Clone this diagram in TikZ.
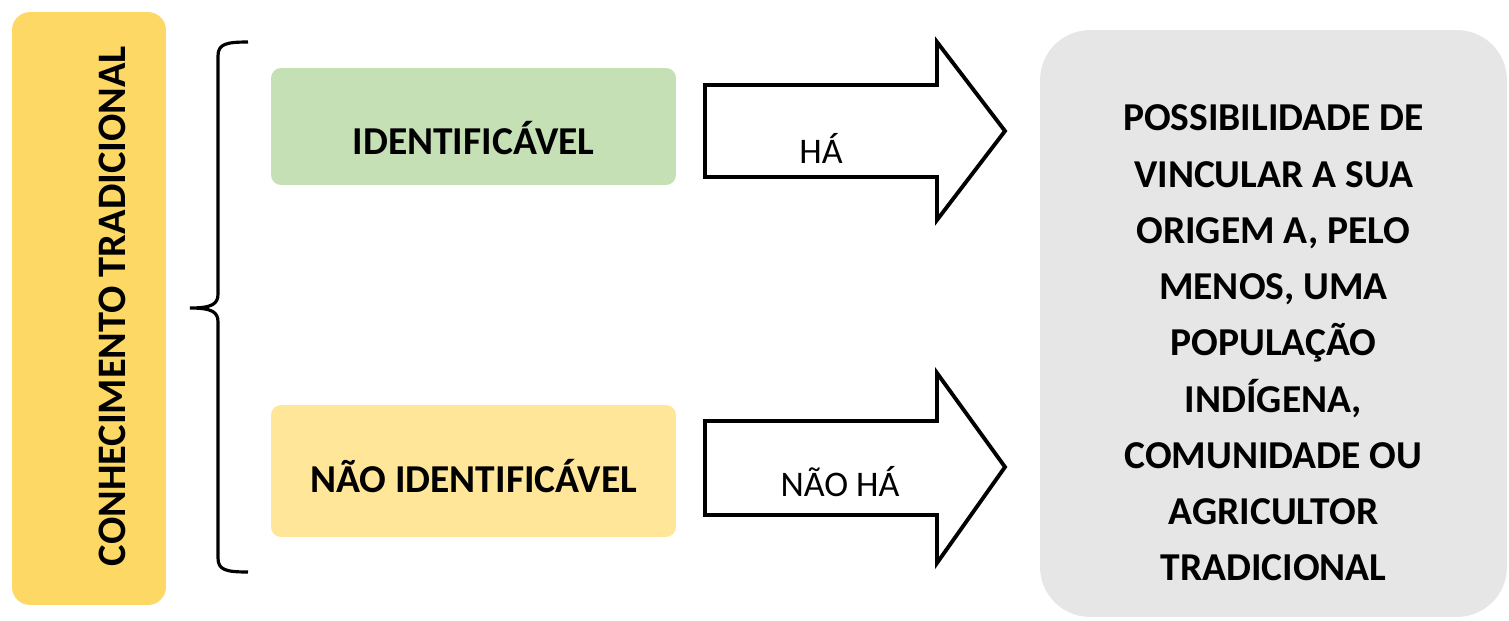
\documentclass[tikz,border=0pt]{standalone}
\usepackage{fontspec}
\setmainfont{Carlito}
\usepackage{tikz}
\usetikzlibrary{arrows.meta}
\definecolor{ouro}{RGB}{253,216,100}
\definecolor{verdeclaro}{RGB}{197,224,180}
\definecolor{amareloclaro}{RGB}{255,230,153}
\definecolor{cinzaclaro}{RGB}{231,230,230}

\begin{document}
\begin{tikzpicture}[x=0.02cm,y=-0.02cm,
  caixa/.style={rounded corners=0.2cm,inner sep=0pt},
  texto/.style={align=center,font=\fontsize{22.5}{32}\selectfont\bfseries},
  seta/.style={draw=black,line width=2.2pt,fill=white,line join=miter},
  rotulo/.style={font=\fontsize{20.5}{24}\selectfont}]
\useasboundingbox (0,0) rectangle (1509,620);
% faixa vertical
\node[caixa,fill=ouro,rounded corners=0.36cm,minimum width=3.08cm,minimum height=11.86cm] (conhec) at (89,308.5) {};
\node[texto,rotate=90,font=\fontsize{23}{28}\selectfont\bfseries] (conhectexto) at (112,306) {CONHECIMENTO TRADICIONAL};
% chave
\draw[line width=1.8pt] (248,42) .. controls (226,42) and (218,44) .. (218,56) -- (218,294)
  .. controls (218,304) and (212,308) .. (190,308)
  .. controls (212,308) and (218,312) .. (218,322) -- (218,558)
  .. controls (218,570) and (226,572) .. (248,572);
% caixas
\node[caixa,fill=verdeclaro,minimum width=8.1cm,minimum height=2.34cm] (ident) at (473.5,126.5) {};
\node[texto] (identtexto) at (473.5,138) {IDENTIFICÁVEL};
\node[caixa,fill=amareloclaro,minimum width=8.1cm,minimum height=2.64cm] (naoident) at (473.5,471) {};
\node[texto] (naoidenttexto) at (473.5,476) {NÃO IDENTIFICÁVEL};
\node[caixa,fill=cinzaclaro,rounded corners=1cm,minimum width=9.34cm,minimum height=11.74cm] (possib) at (1273.5,323.5) {};
\node[texto] (possibtexto) at (1273.5,343)
  {POSSIBILIDADE DE\\VINCULAR A SUA\\ORIGEM A, PELO\\MENOS, UMA\\POPULAÇÃO\\INDÍGENA,\\COMUNIDADE OU\\AGRICULTOR\\TRADICIONAL};
% setas
\draw[seta] (705,85) -- (937,85) -- (937,42) -- (1005,131) -- (937,220) -- (937,177) -- (705,177) -- cycle;
\node[rotulo] (ha) at (821,148) {HÁ};
\draw[seta] (705,421) -- (937,421) -- (937,373) -- (1005,467) -- (937,563) -- (937,515) -- (705,515) -- cycle;
\node[rotulo] (naoha) at (840,482) {NÃO HÁ};
\end{tikzpicture}
\end{document}
